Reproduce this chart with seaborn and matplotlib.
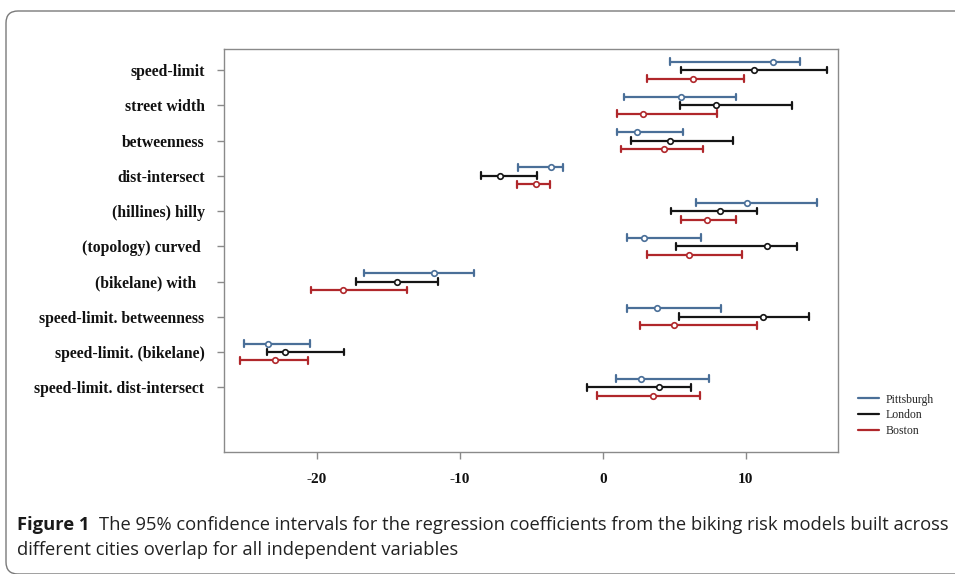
import numpy as np
import pandas as pd
import matplotlib
matplotlib.use("Agg")
import matplotlib.pyplot as plt
import seaborn as sns
from matplotlib.lines import Line2D
from matplotlib.patches import FancyBboxPatch

# variables (top to bottom)
variables = ["speed-limit", "street width", "betweenness", "dist-intersect",
             "(hillines) hilly", "(topology) curved ", "(bikelane) with  ",
             "speed-limit. betweenness", "speed-limit. (bikelane)",
             "speed-limit. dist-intersect"]
cities = ["Pittsburgh", "London", "Boston"]

# coefficient estimates and 95% CI bounds
pit_coef = [11.9, 5.5, 2.4, -3.6, 10.1, 2.9, -11.8, 3.8, -23.4, 2.7]
pit_lo = [4.7, 1.5, 1.0, -5.9, 6.5, 1.7, -16.7, 1.7, -25.1, 0.9]
pit_hi = [13.8, 9.3, 5.6, -2.8, 15.0, 6.9, -9.0, 8.3, -20.5, 7.4]

lon_coef = [10.6, 7.9, 4.7, -7.2, 8.2, 11.5, -14.4, 11.2, -22.2, 3.9]
lon_lo = [5.5, 5.4, 2.0, -8.5, 4.8, 5.1, -17.3, 5.3, -23.5, -1.1]
lon_hi = [15.7, 13.2, 9.1, -4.6, 10.8, 13.6, -11.5, 14.4, -18.1, 6.2]

bos_coef = [6.3, 2.8, 4.3, -4.7, 7.3, 6.0, -18.2, 5.0, -22.9, 3.5]
bos_lo = [3.1, 1.0, 1.3, -6.0, 5.5, 3.1, -20.4, 2.6, -25.4, -0.4]
bos_hi = [9.9, 8.0, 7.0, -3.7, 9.3, 9.7, -13.7, 10.8, -20.6, 6.8]

colors = {"Pittsburgh": "#4a6f98", "London": "#151515", "Boston": "#b0272b"}

# long table: each (variable, city) has lo / coef / hi, so median = coef, range = CI
rows = []
for city, c, lo, hi in [("Pittsburgh", pit_coef, pit_lo, pit_hi),
                        ("London", lon_coef, lon_lo, lon_hi),
                        ("Boston", bos_coef, bos_lo, bos_hi)]:
    for v, a, b, d in zip(variables, lo, c, hi):
        for val in (a, b, d):
            rows.append({"variable": v, "city": city, "value": val})
df = pd.DataFrame(rows)

sns.set_theme(style="white")
plt.rcParams["font.family"] = ["Liberation Serif", "DejaVu Serif"]
plt.rcParams["axes.unicode_minus"] = False

fig = plt.figure(figsize=(9.55, 5.74), dpi=100)
ax = fig.add_axes([224 / 955, 1 - 452 / 574, (838 - 224) / 955, (452 - 49) / 574])

sns.pointplot(data=df, x="value", y="variable", hue="city",
              order=variables, hue_order=cities, palette=colors,
              estimator="median", errorbar=lambda v: (v.min(), v.max()),
              dodge=0.48, linestyles="none", markers="o", capsize=0.19,
              err_kws={"linewidth": 1.6, "zorder": 2},
              markersize=4, markeredgewidth=1.2, markerfacecolor="white",
              zorder=3, legend=False, ax=ax)

ax.set_xlim(-26.5, 16.45)
ax.set_ylim(10.84, -0.6)
ax.set_xticks([-20, -10, 0, 10])
ax.set_xlabel("")
ax.set_ylabel("")

for s in ax.spines.values():
    s.set_color("#8a8a8a")
    s.set_linewidth(1.0)
ax.tick_params(axis="both", which="both", direction="out", length=5,
               width=1.0, color="#8a8a8a", labelcolor="#111111")
ax.tick_params(axis="x", pad=10, bottom=True)
ax.tick_params(axis="y", pad=9, left=True)
for lab in ax.get_xticklabels():
    lab.set_fontweight("bold")
    lab.set_fontsize(11)
for lab in ax.get_yticklabels():
    lab.set_fontweight("bold")
    lab.set_fontsize(11.3)

handles = [Line2D([0], [0], color=colors[c], lw=1.6) for c in cities]
fig.legend(handles, cities, loc="upper left", frameon=False,
           bbox_to_anchor=(847 / 955, 1 - 383 / 574), fontsize=8.5,
           handlelength=1.8, handletextpad=0.6, labelspacing=0.3)

# rounded frame around the figure panel
frame = FancyBboxPatch((0.06, 0.0), 10.0, 5.63,
                       boxstyle="round,pad=0,rounding_size=0.12",
                       transform=fig.dpi_scale_trans, fill=False,
                       edgecolor="#7a7a7a", linewidth=1.0)
fig.patches.append(frame)

# caption
cap_font = ["Open Sans", "DejaVu Sans"]
renderer = fig.canvas.get_renderer()
t1 = fig.text(17 / 955, 1 - 530 / 574, "Figure 1", fontsize=13.2, fontweight="bold",
              family=cap_font, color="#1a1a1a", va="baseline")
w = t1.get_window_extent(renderer).width
fig.text((17 + w + 9) / 955, 1 - 530 / 574,
         "The 95% confidence intervals for the regression coefficients from the biking risk models built across",
         fontsize=13.2, family=cap_font, color="#222222", va="baseline")
fig.text(17 / 955, 1 - 555 / 574, "different cities overlap for all independent variables",
         fontsize=13.2, family=cap_font, color="#222222", va="baseline")

fig.savefig("out.png", dpi=100)
